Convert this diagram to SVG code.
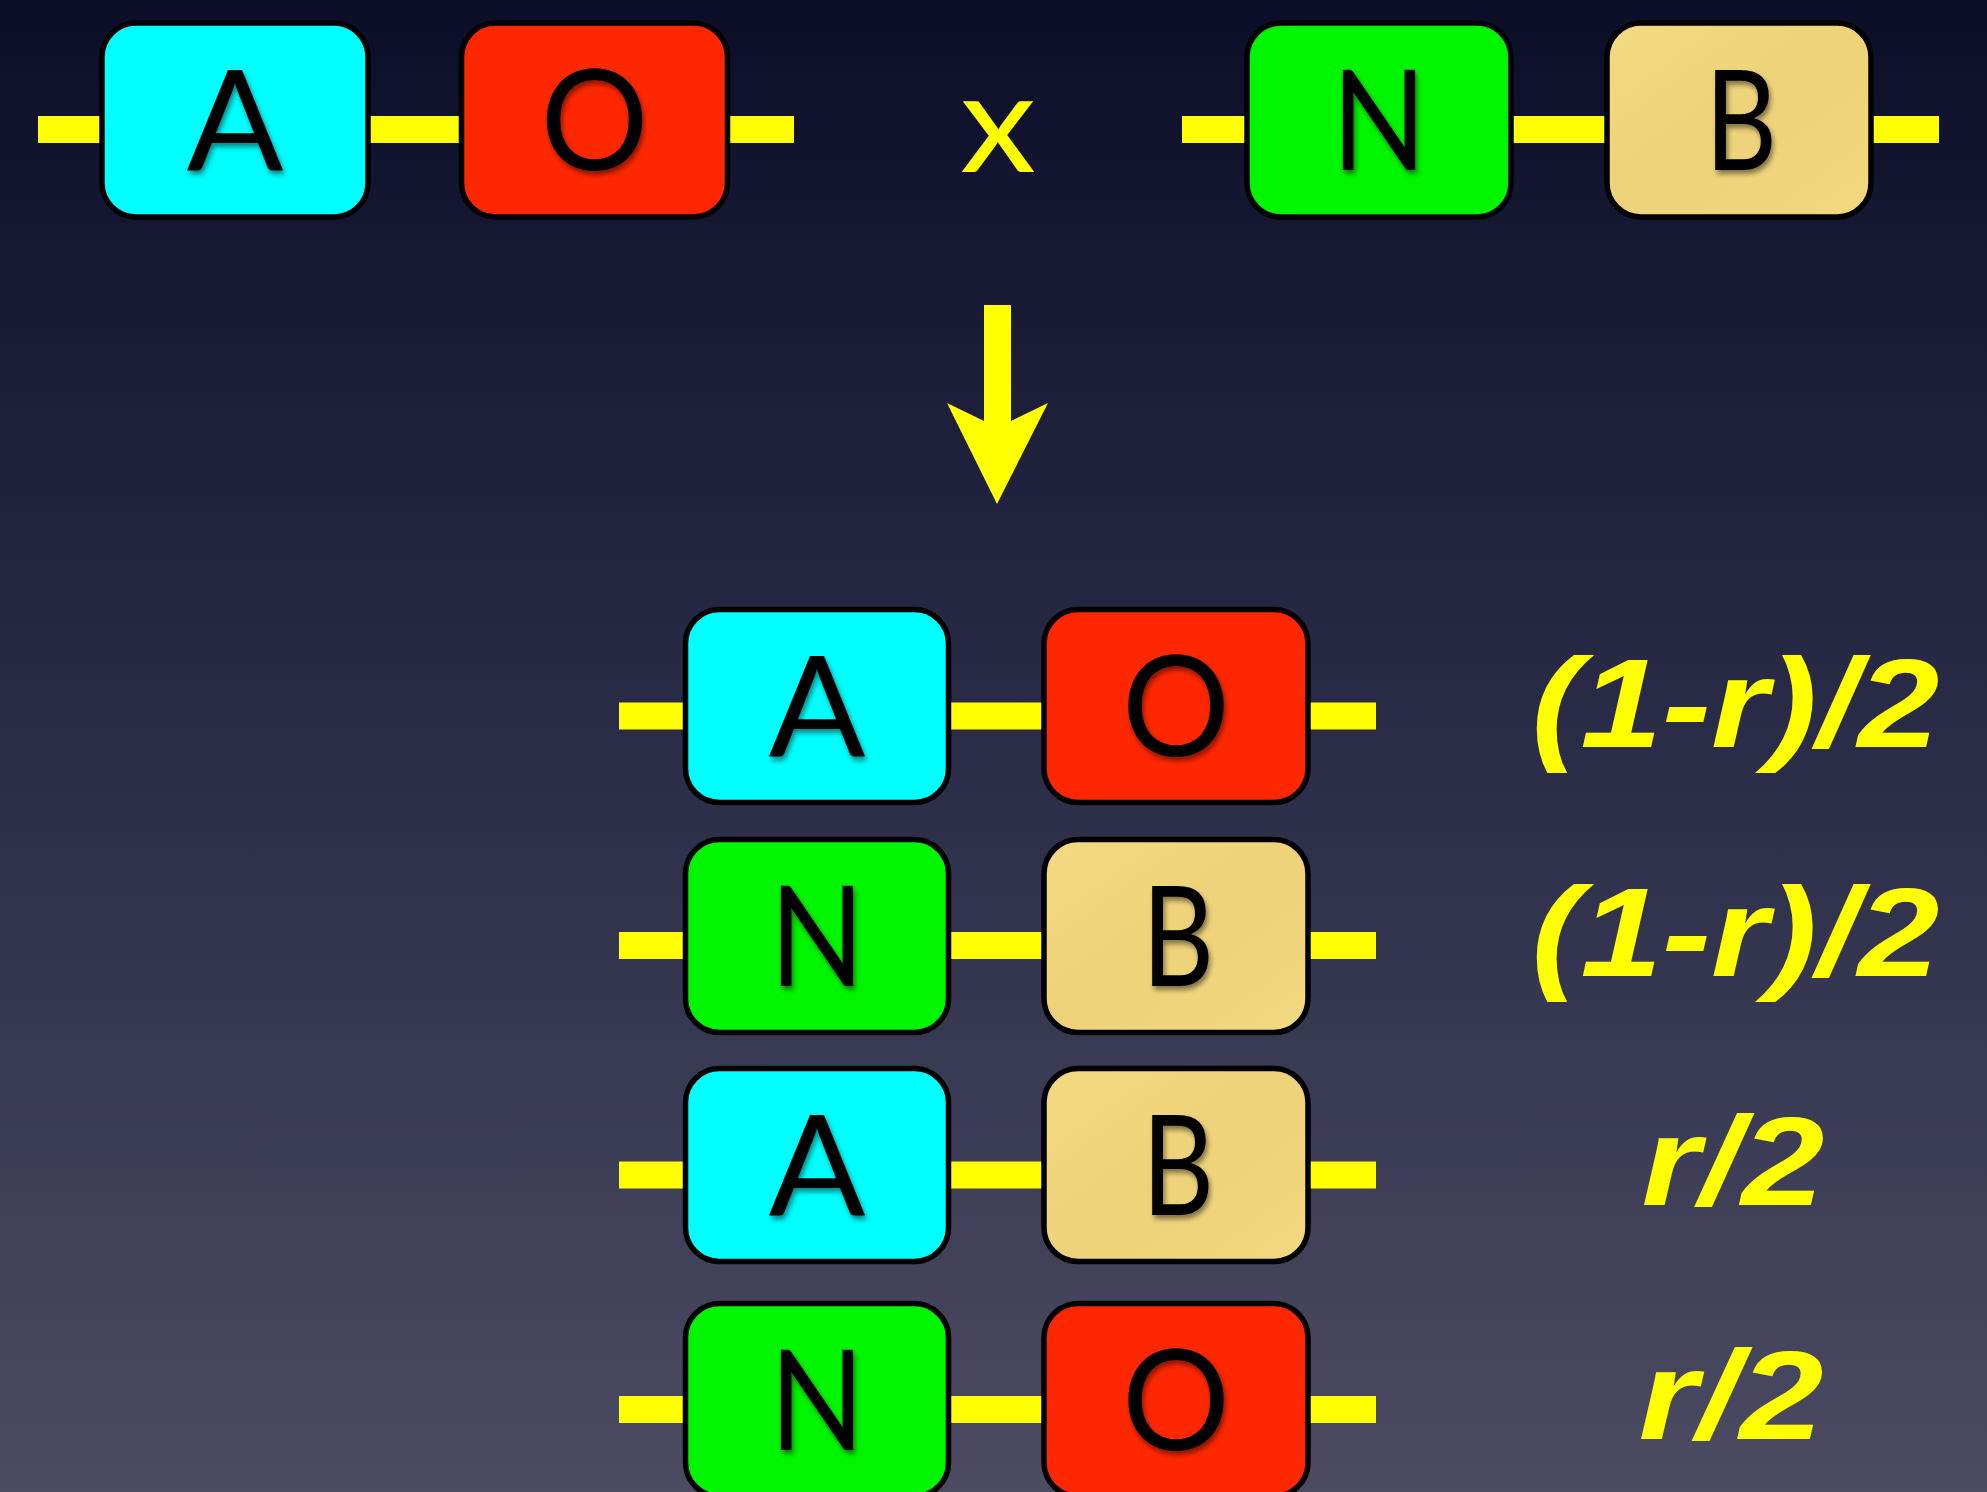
<svg xmlns="http://www.w3.org/2000/svg" width="1987" height="1492" viewBox="0 0 1987 1492">
<defs>
<linearGradient id="bg" x1="0" y1="0" x2="0" y2="1">
<stop offset="0" stop-color="#0c0d28"/>
<stop offset="0.5" stop-color="#2b2c48"/>
<stop offset="1" stop-color="#4b4b62"/>
</linearGradient>
<linearGradient id="beige" x1="0" y1="0" x2="1" y2="1">
<stop offset="0" stop-color="#f3da80"/>
<stop offset="0.5" stop-color="#eed27a"/>
<stop offset="1" stop-color="#f2d87e"/>
</linearGradient>
<filter id="sh" x="-20%" y="-20%" width="140%" height="140%">
<feDropShadow dx="2" dy="4" stdDeviation="2.5" flood-color="#000" flood-opacity="0.45"/>
</filter>
<style>
.box{stroke:#000;stroke-width:5.5}
.cy{fill:#00ffff}
.rd{fill:#ff2700}
.gr{fill:#00f500}
.be{fill:url(#beige)}
.ltr{font-family:Lato,"Liberation Sans",sans-serif;font-size:140px;fill:#000;text-anchor:middle;filter:url(#sh)}
.bar{fill:#ffff00}
.lbl{font-family:"Liberation Sans",Arial,sans-serif;font-size:127px;font-weight:bold;font-style:italic;fill:#ffff00;text-anchor:middle}
</style>
</defs>
<rect x="0" y="0" width="1987" height="1492" fill="url(#bg)"/>

<g id="connectors">
<rect class="bar" x="38" y="116" width="66" height="27"/>
<rect class="bar" x="366" y="116" width="98" height="27"/>
<rect class="bar" x="726" y="116" width="68" height="27"/>
<rect class="bar" x="1182" y="116" width="68" height="27"/>
<rect class="bar" x="1509" y="116" width="100" height="27"/>
<rect class="bar" x="1869" y="116" width="70" height="27"/>
<rect class="bar" x="619" y="702.5" width="68" height="27"/>
<rect class="bar" x="947" y="702.5" width="99" height="27"/>
<rect class="bar" x="1307" y="702.5" width="69" height="27"/>
<rect class="bar" x="619" y="932" width="68" height="27"/>
<rect class="bar" x="947" y="932" width="99" height="27"/>
<rect class="bar" x="1307" y="932" width="69" height="27"/>
<rect class="bar" x="619" y="1161.5" width="68" height="27"/>
<rect class="bar" x="947" y="1161.5" width="99" height="27"/>
<rect class="bar" x="1307" y="1161.5" width="69" height="27"/>
<rect class="bar" x="619" y="1396" width="68" height="27"/>
<rect class="bar" x="947" y="1396" width="99" height="27"/>
<rect class="bar" x="1307" y="1396" width="69" height="27"/>
<polygon id="arrow" class="bar" points="984,305 1011,305 1011,421 1048,403 997,504 947,403 984,421"/>
</g>

<g id="top-A"><rect class="box cy" x="102" y="23" width="266" height="194" rx="34"/><text class="ltr" x="235" y="170" textLength="97" lengthAdjust="spacingAndGlyphs">A</text></g>
<g id="top-O"><rect class="box rd" x="461.5" y="23" width="266" height="194" rx="34"/><text class="ltr" x="594.5" y="170" textLength="108" lengthAdjust="spacingAndGlyphs">O</text></g>
<text id="cross" x="998" y="172" font-family="Lato,'Liberation Sans',sans-serif" font-size="140" fill="#ffff00" text-anchor="middle" textLength="76" lengthAdjust="spacingAndGlyphs">x</text>
<g id="top-N"><rect class="box gr" x="1247" y="23" width="264" height="194" rx="34"/><text class="ltr" x="1379" y="170" textLength="95" lengthAdjust="spacingAndGlyphs">N</text></g>
<g id="top-B"><rect class="box be" x="1607" y="23" width="264" height="194" rx="34"/><text class="ltr" x="1741" y="170" textLength="72" lengthAdjust="spacingAndGlyphs">B</text></g>

<g id="r1-A"><rect class="box cy" x="685.5" y="609.5" width="263" height="193" rx="34"/><text class="ltr" x="817" y="756" textLength="97" lengthAdjust="spacingAndGlyphs">A</text></g>
<g id="r1-O"><rect class="box rd" x="1044" y="609.5" width="264" height="193" rx="34"/><text class="ltr" x="1176" y="756" textLength="108" lengthAdjust="spacingAndGlyphs">O</text></g>
<text id="l1" class="lbl" x="1735.5" y="747" textLength="408" lengthAdjust="spacingAndGlyphs">(1-r)/2</text>

<g id="r2-N"><rect class="box gr" x="685.5" y="839.5" width="263" height="193" rx="34"/><text class="ltr" x="817" y="986" textLength="95" lengthAdjust="spacingAndGlyphs">N</text></g>
<g id="r2-B"><rect class="box be" x="1044" y="839.5" width="264" height="193" rx="34"/><text class="ltr" x="1178" y="986" textLength="72" lengthAdjust="spacingAndGlyphs">B</text></g>
<text id="l2" class="lbl" x="1735.5" y="976" textLength="408" lengthAdjust="spacingAndGlyphs">(1-r)/2</text>

<g id="r3-A"><rect class="box cy" x="685.5" y="1068.5" width="263" height="193" rx="34"/><text class="ltr" x="817" y="1215" textLength="97" lengthAdjust="spacingAndGlyphs">A</text></g>
<g id="r3-B"><rect class="box be" x="1044" y="1068.5" width="264" height="193" rx="34"/><text class="ltr" x="1178" y="1215" textLength="72" lengthAdjust="spacingAndGlyphs">B</text></g>
<text id="l3" class="lbl" x="1733" y="1205" textLength="183" lengthAdjust="spacingAndGlyphs">r/2</text>

<g id="r4-N"><rect class="box gr" x="685.5" y="1303.5" width="263" height="193" rx="34"/><text class="ltr" x="817" y="1450" textLength="95" lengthAdjust="spacingAndGlyphs">N</text></g>
<g id="r4-O"><rect class="box rd" x="1044" y="1303.5" width="264" height="193" rx="34"/><text class="ltr" x="1176" y="1450" textLength="108" lengthAdjust="spacingAndGlyphs">O</text></g>
<text id="l4" class="lbl" x="1731" y="1439" textLength="185" lengthAdjust="spacingAndGlyphs">r/2</text>
</svg>
